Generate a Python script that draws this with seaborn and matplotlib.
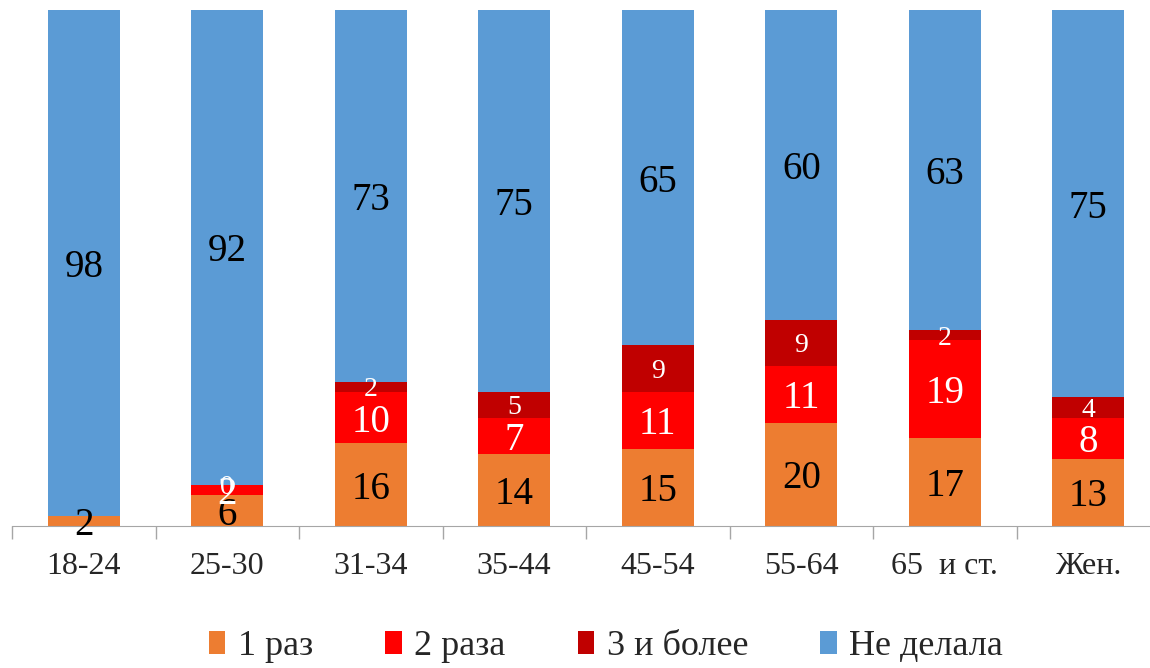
import numpy as np
import matplotlib
matplotlib.use('Agg')
import matplotlib.pyplot as plt
import seaborn as sns
from matplotlib.patches import Patch

categories = ['18-24', '25-30', '31-34', '35-44', '45-54', '55-64', '65  и ст.', 'Жен.']
once = [2, 6, 16, 14, 15, 20, 17, 13]
twice = [np.nan, 2, 10, 7, 11, 11, 19, 8]
three_plus = [np.nan, 0, 2, 5, 9, 9, 2, 4]
never = [98, 92, 73, 75, 65, 60, 63, 75]

series_names = ['1 раз', '2 раза', '3 и более', 'Не делала']
colors = ['#ED7D31', '#FF0000', '#C00000', '#5B9BD5']
label_colors = ['black', 'white', 'white', 'black']
label_sizes = [28, 28, 20, 28]

sns.set_style('white')
plt.rcParams['font.family'] = ['Liberation Serif', 'DejaVu Serif']

fig = plt.figure(figsize=(11.5, 6.68), dpi=100)
ax = fig.add_axes([12 / 1150, 142 / 668, 1148 / 1150, 516 / 668])

layers = [np.nan_to_num(np.array(s, dtype=float)) for s in (once, twice, three_plus, never)]
cum = np.cumsum(layers, axis=0)

# рисуем накопленные суммы сверху вниз, чтобы получить стек
for i in range(3, -1, -1):
    sns.barplot(x=categories, y=cum[i], color=colors[i], width=0.5,
                saturation=1, ax=ax, linewidth=0)

raw = [once, twice, three_plus, never]
for i in range(4):
    for j in range(len(categories)):
        v = raw[i][j]
        if np.isnan(v):
            continue
        base = cum[i - 1][j] if i > 0 else 0
        top = min(base + v, 100)
        y = (base + top) / 2
        ax.text(j, y, f'{int(v)}', ha='center', va='center_baseline',
                color=label_colors[i], fontsize=label_sizes[i], clip_on=False)

ax.set_ylim(0, 100)
ax.set_xlim(-0.5, len(categories) - 0.5)
ax.set_yticks([])
ax.set_ylabel('')
for s in ['top', 'right', 'left']:
    ax.spines[s].set_visible(False)
ax.spines['bottom'].set_color('#A6A6A6')
ax.set_xticks(range(len(categories)))
ax.set_xticklabels(categories, fontsize=23)
ax.set_xticks(np.arange(-0.5, len(categories), 1), minor=True)
ax.tick_params(axis='x', which='major', length=0, pad=19)
ax.tick_params(axis='x', which='minor', bottom=True, length=9, color='#A6A6A6', width=1)

handles = [Patch(facecolor=c, edgecolor='none') for c in colors]
fig.legend(handles, series_names, loc='center', bbox_to_anchor=(0.527, 0.032),
           ncol=4, frameon=False, fontsize=26, handlelength=0.45, handleheight=0.6,
           handletextpad=0.35, columnspacing=2.0)

fig.savefig('out.png', dpi=100)
